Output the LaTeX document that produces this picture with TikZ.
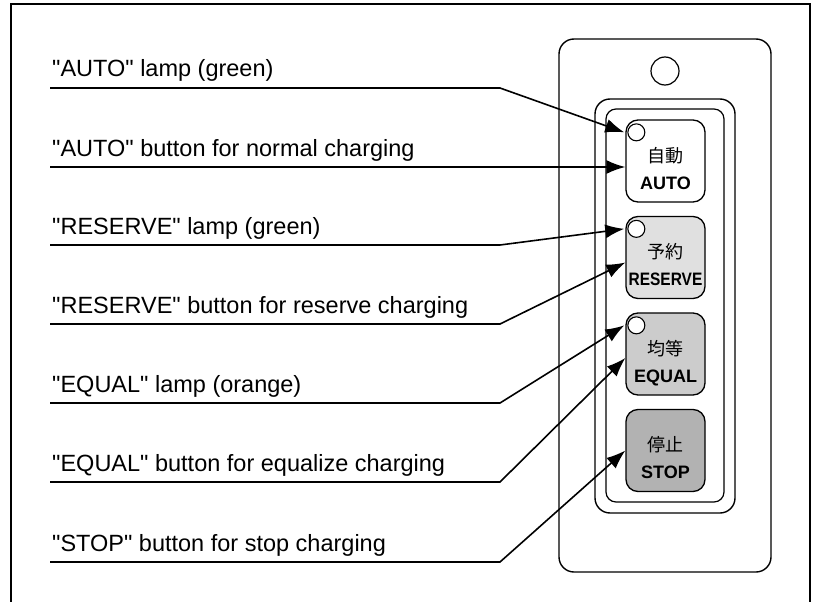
\documentclass[tikz,border=0pt]{standalone}
\usepackage{fontspec}
\setmainfont{Liberation Sans}[Ligatures=TeXOff]
\newfontfamily\jpfont{Noto Sans CJK JP}
\usetikzlibrary{arrows.meta,positioning}

\definecolor{grisclair}{gray}{0.88}
\definecolor{grismoyen}{gray}{0.80}
\definecolor{grisfonce}{gray}{0.70}

\tikzset{
  etiq/.style={anchor=base west,inner sep=0pt,font=\fontsize{23.5}{27}\selectfont},
  trait/.style={line width=1.6pt,-{Latex[length=19pt,width=14pt]}},
  bouton/.style={draw,line width=1.3pt,rounded corners=12pt,minimum width=79pt,minimum height=82pt,inner sep=0pt},
  voyant/.style={draw,circle,fill=white,line width=1.1pt,minimum size=17pt,inner sep=0pt},
  jp/.style={anchor=base,inner sep=0pt,font=\jpfont\fontsize{18}{20}\selectfont},
  en/.style={anchor=base,inner sep=0pt,font=\bfseries\fontsize{18}{20}\selectfont}
}

\begin{document}
\begin{tikzpicture}[x=1pt,y=-1pt]
  \useasboundingbox (0,0) rectangle (817,602);
  % Cadre
  \draw[line width=1.5pt] (11,602) -- (11,4) -- (810,4) -- (810,602);

  % Boitier
  \draw[line width=1.4pt,rounded corners=15pt] (559,39) rectangle (771,572);
  \node[draw,circle,line width=1.2pt,minimum size=28pt,inner sep=0pt] (trou) at (665,71) {};
  \draw[line width=1.4pt,rounded corners=15pt] (595,99) rectangle (735,513);
  \draw[line width=1.2pt,rounded corners=10pt] (606,109) rectangle (724,502);

  % Boutons
  \foreach \nom/\y/\col/\jap/\eng in {auto/161/white/自動/AUTO,
      reserve/257.5/grisclair/予約/{\scalebox{0.86}[1]{RESERVE}},
      equal/354/grismoyen/均等/EQUAL,
      stop/450.5/grisfonce/停止/STOP} {
    \node[bouton,fill=\col] (b\nom) at (665.5,\y) {};
    \node[jp] (j\nom) at ([yshift=-1pt]b\nom.center) {\jap};
    \node[en] (e\nom) at ([yshift=-28pt]b\nom.center) {\eng};
  }
  % Voyants
  \foreach \nom in {auto,reserve,equal}
    \node[voyant] (v\nom) at ([xshift=11pt,yshift=-13pt]b\nom.north west) {};

  % Legendes
  \coordinate (k) at (500,0);
  \foreach \i/\y/\txt in {1/88/{"AUTO" lamp (green)},
      2/167/{"AUTO" button for normal charging},
      3/245/{"RESERVE" lamp (green)},
      4/324/{"RESERVE" button for reserve charging},
      5/403/{"EQUAL" lamp (orange)},
      6/482/{"EQUAL" button for equalize charging},
      7/562/{"STOP" button for stop charging}} {
    \coordinate (d\i) at (50,\y);
    \node[etiq] (l\i) at (52,\y-11) {\txt};
  }

  % Fleches
  \draw[trait] (d1) -- (d1 -| k) -- ([xshift=-3pt]vauto.west);
  \draw[trait] (d2) -- (d2 -| bauto.west);
  \draw[trait] (d3) -- (d3 -| k) -- ([xshift=-3pt]vreserve.west);
  \draw[trait] (d4) -- (d4 -| k) -- ([yshift=-5pt]breserve.west);
  \draw[trait] (d5) -- (d5 -| k) -- ([xshift=-3pt]vequal.west);
  \draw[trait] (d6) -- (d6 -| k) -- ([yshift=-4pt]bequal.west);
  \draw[trait] (d7) -- (d7 -| k) -- (bstop.west);
\end{tikzpicture}
\end{document}
